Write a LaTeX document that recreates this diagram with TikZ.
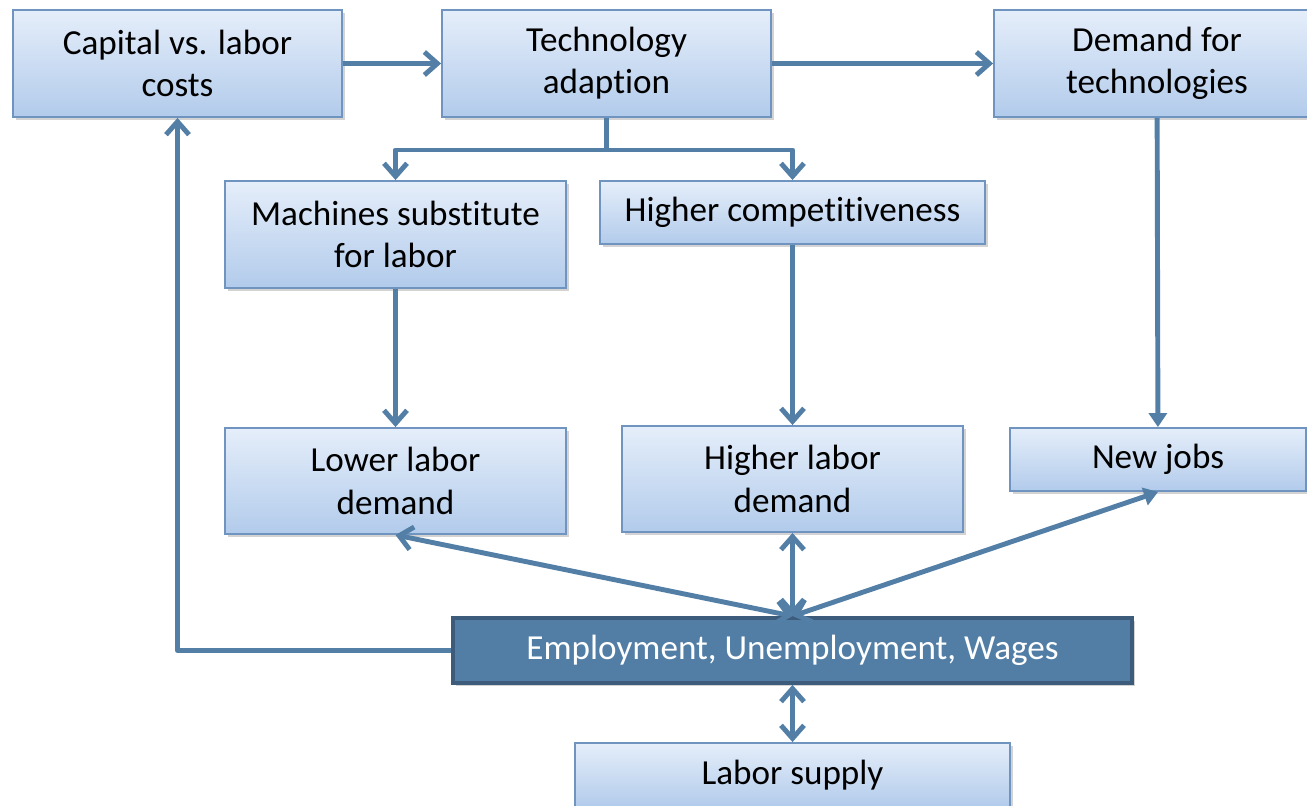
\documentclass[tikz,border=0pt]{standalone}
\usepackage{fontspec}
\setmainfont[Ligatures=NoCommon]{Carlito}
\usetikzlibrary{arrows.meta,shadows}

\definecolor{linkblue}{RGB}{83,127,167}
\definecolor{boxedge}{RGB}{112,148,192}
\definecolor{boxtop}{RGB}{229,238,250}
\definecolor{boxbottom}{RGB}{178,203,235}
\definecolor{empfill}{RGB}{82,126,166}
\definecolor{empedge}{RGB}{61,92,124}

\tikzset{
	box/.style={draw=boxedge, line width=1.1pt, top color=boxtop, bottom color=boxbottom,
		align=center, inner sep=0pt, font=\fontsize{20}{24}\selectfont,
		drop shadow={opacity=0.35, shadow xshift=0.06cm, shadow yshift=-0.06cm}},
	link/.style={draw=linkblue, line width=2.8pt, line join=round},
	barb/.tip={Straight Barb[length=0.26cm, width=0.46cm, line width=2.8pt]},
	head/.tip={Triangle[length=0.28cm, width=0.36cm]},
}

\begin{document}
\begin{tikzpicture}[x=0.02cm, y=-0.02cm]
	  \useasboundingbox (0,0) rectangle (1307,805);
	  \clip (0,0) rectangle (1307,805);

	  % top row
	  \node[box, minimum width=6.58cm, minimum height=2.14cm] (cap) at (177.5,63.5) {Capital vs. labor\\costs};
	  \node[box, minimum width=6.58cm, minimum height=2.14cm] (tech) at (606.5,63.5) {Technology\\adaption};
	  \node[box, minimum width=6.52cm, minimum height=2.14cm] (dem) at (1157,63.5) {Demand for\\technologies};

	  % middle rows
	  \node[box, minimum width=6.82cm, minimum height=2.14cm] (mach) at (395.5,234.5) {Machines substitute\\for labor};
	  \node[box, minimum width=7.70cm, minimum height=1.26cm] (comp) at (792.5,212.5) {Higher competitiveness};
	  \node[box, minimum width=6.82cm, minimum height=2.12cm] (lower) at (395.5,481) {Lower labor\\demand};
	  \node[box, minimum width=6.82cm, minimum height=2.12cm] (higher) at (792.5,479) {Higher labor\\demand};
	  \node[box, minimum width=5.92cm, minimum height=1.26cm] (jobs) at (1158,459.5) {New jobs};

	  % bottom
	  \node[box, draw=empedge, line width=2.2pt, top color=empfill, bottom color=empfill, text=white,
	        minimum width=13.58cm, minimum height=1.30cm] (emp) at (792.5,650.5) {Employment, Unemployment, Wages};
	  \node[box, minimum width=8.70cm, minimum height=1.28cm] (sup) at (792.5,775) {Labor supply};

	  \coordinate (split) at (606.5,150);

	  \draw[link, -barb] (cap) -- (tech);
	  \draw[link, -barb] (tech) -- (dem);
	  \draw[link] (tech.south) -- (split);
	  \draw[link, -barb] (split) -| (mach.north);
	  \draw[link, -barb] (split) -| (comp.north);
	  \draw[link, -barb] (mach) -- (lower);
	  \draw[link, -barb] (comp) -- (higher);
	  \draw[link, -head] (dem) -- (jobs);

	  \draw[link, barb-barb] (emp.north) -- (lower.south);
	  \draw[link, barb-barb] (emp.north) -- (higher.south);
	  \draw[link, barb-head] (emp.north) -- (jobs.south);
	  \draw[link, -barb] (emp.west) -| (cap.south);
	  \draw[link, barb-barb] (emp.south) -- (sup.north);
\end{tikzpicture}
\end{document}
